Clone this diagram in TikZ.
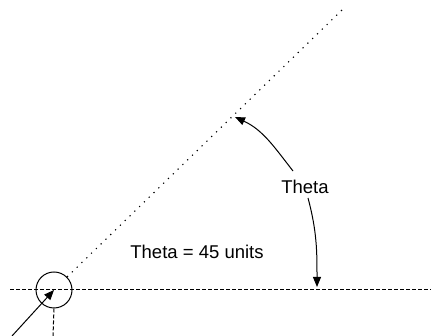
\documentclass[tikz,border=0pt]{standalone}
\usepackage{fontspec}
\setmainfont{Liberation Sans}
\usetikzlibrary{arrows.meta}

\begin{document}
\begin{tikzpicture}[
  x=1pt, y=1pt,
  every node/.style={font=\fontsize{18.5}{22}\selectfont},
  lbl/.style={inner sep=1pt},
  ptr/.style={-{Triangle[length=10pt,width=8pt]}, line width=1pt},
  dashline/.style={line width=1pt, dash pattern=on 4pt off 2pt},
  rayline/.style={line width=1.1pt, dash pattern=on 1.2pt off 5.5pt}
]
\useasboundingbox (0,0) rectangle (431,336);

% ── Axes ──────────────────────────────────────────────────────────────────────
\node[circle, draw, line width=1pt, minimum size=36pt, inner sep=0pt]
  (org) at (54,46) {};
\coordinate (hleft)  at (10,46);
\coordinate (hright) at (431,46);
\coordinate (vbot)   at (53,0);
\coordinate (tail)   at (12,0);
\coordinate (rayend) at (342,326);

\draw[dashline] (hleft) -- (hright);
\draw[dashline] (org.south) -- (vbot);
\draw[rayline]  (org.45) -- (rayend);
\draw[ptr] (tail) -- (org.center);

% ── Labels ────────────────────────────────────────────────────────────────────
\node[lbl] (theta) at (305,149) {Theta};
\node[lbl] (value) at (197,84)  {Theta = 45 units};

\coordinate (tipray)  at (235,219);
\coordinate (tipbase) at (317,49);

% angle arrows
\draw[ptr] ([xshift=-12pt,yshift=8pt]theta.north) to[out=128,in=-25] (tipray);
\draw[ptr] ([xshift=3pt,yshift=-3pt]theta.south) to[out=-75,in=90] (tipbase);

\end{tikzpicture}
\end{document}
